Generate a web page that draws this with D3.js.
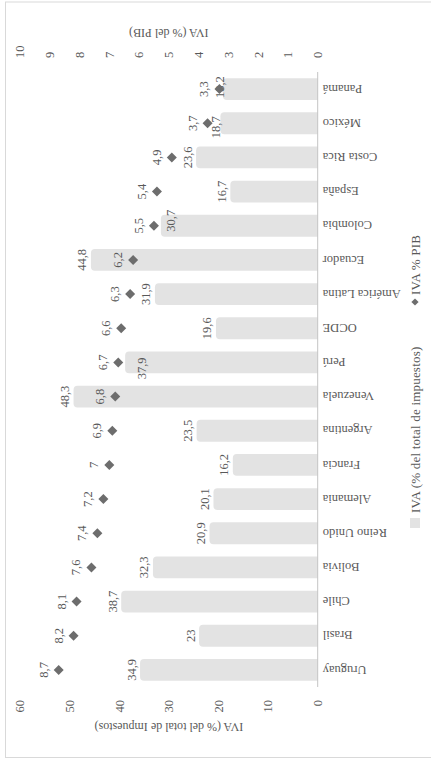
<!DOCTYPE html>
<html><head><meta charset="utf-8">
<script src="https://cdn.jsdelivr.net/npm/d3@7"></script>
<style>html,body{margin:0;padding:0;background:#fff;overflow:hidden}</style>
</head><body>
<svg id="chart" width="431" height="761"></svg>
<script>
const categories = ["Uruguay","Brasil","Chile","Bolivia","Reino Unido","Alemania","Francia","Argentina","Venezuela","Perú","OCDE","América Latina","Ecuador","Colombia","España","Costa Rica","México","Panamá"];
const ivaTotal = [34.9,23,38.7,32.3,20.9,20.1,16.2,23.5,48.3,37.9,19.6,31.9,44.8,30.7,16.7,23.6,18.7,18.2];
const ivaPIB = [8.7,8.2,8.1,7.6,7.4,7.2,7,6.9,6.8,6.7,6.6,6.3,6.2,5.5,5.4,4.9,3.7,3.3];
const leftTicks = [0,10,20,30,40,50,60];
const rightTicks = [0,1,2,3,4,5,6,7,8,9,10];
const titleText = "Gráfico 2014";
const leftTitle = "IVA (% del total de Impuestos)";
const rightTitle = "IVA (% del PIB)";
const legendBar = "IVA (% del total de impuestos)";
const legendPt = "IVA % PIB";

// manual label nudges (original, un-rotated frame)
const barLabelNudge = {"Perú":{dx:-6,dy:25},"Colombia":{dx:5,dy:19},"México":{dx:-4,dy:4},"Panamá":{dx:2,dy:6}};

const W = 761, H = 431;
const svg = d3.select("#chart");
const g = svg.append("g").attr("transform", `translate(0,${W}) rotate(-90)`);
const FONT = "'Liberation Serif','Times New Roman',serif";
const TXT = "#595959";
const fmt = v => String(v).replace(".", ",");

// frame
g.append("rect").attr("x",3.5).attr("y",5.5).attr("width",755.5).attr("height",600)
  .attr("fill","none").attr("stroke","#d9d9d9");
// title (mostly outside the view, as in the reference)
g.append("text").attr("x",369).attr("y",-1).attr("text-anchor","middle")
  .attr("font-family",FONT).attr("font-weight","bold").attr("font-size",15).attr("fill","#333")
  .text(titleText);

const x = d3.scaleBand().domain(categories).range([74,689]).paddingInner(0.36).paddingOuter(0.18);
const yL = d3.scaleLinear().domain([0,60]).range([317.7,20]);
const yR = d3.scaleLinear().domain([0,10]).range([317.7,20]);

const barCap = 4.5, rad = 4;
const data = categories.map((c,i)=>({c, v:ivaTotal[i], p:ivaPIB[i]}));

// bars with rounded top
g.append("g").selectAll("path").data(data).join("path")
  .attr("fill","#e3e3e3")
  .attr("d", d => {
    const x0 = x(d.c), x1 = x0 + x.bandwidth(), yb = yL(0), yt = yL(d.v) - barCap;
    return `M${x0},${yb}V${yt+rad}Q${x0},${yt} ${x0+rad},${yt}H${x1-rad}Q${x1},${yt} ${x1},${yt+rad}V${yb}Z`;
  });

// baseline
g.append("line").attr("x1",x.range()[0]).attr("x2",x.range()[1])
  .attr("y1",yL(0)).attr("y2",yL(0)).attr("stroke","#c4c4c4").attr("stroke-width",1);

// category labels
g.append("g").selectAll("text").data(categories).join("text")
  .attr("transform", c => `translate(${x(c)+x.bandwidth()/2},${yL(0)+5}) rotate(-90)`)
  .attr("text-anchor","end").attr("dy","0.35em")
  .attr("font-family",FONT).attr("font-size",12.5).attr("fill",TXT)
  .text(c=>c);

// bar labels
g.append("g").selectAll("text").data(data).join("text")
  .attr("x", d => x(d.c)+x.bandwidth()/2 + ((barLabelNudge[d.c]||{}).dx||0))
  .attr("y", d => yL(d.v) - 9 + ((barLabelNudge[d.c]||{}).dy||0))
  .attr("text-anchor","middle")
  .attr("font-family",FONT).attr("font-size",12.5).attr("fill",TXT)
  .text(d=>fmt(d.v));

// diamonds
const diamond = d3.symbol().type(d3.symbolSquare).size(50);
g.append("g").selectAll("path").data(data).join("path")
  .attr("d", diamond)
  .attr("transform", d => `translate(${x(d.c)+x.bandwidth()/2},${yR(d.p)}) rotate(45)`)
  .attr("fill","#6d6d6d");

// diamond labels
g.append("g").selectAll("text").data(data).join("text")
  .attr("x", d => x(d.c)+x.bandwidth()/2)
  .attr("y", d => yR(d.p) - 11)
  .attr("text-anchor","middle")
  .attr("font-family",FONT).attr("font-size",12.5).attr("fill",TXT)
  .text(d=>fmt(d.p));

// left axis ticks
g.append("g").selectAll("text").data(leftTicks).join("text")
  .attr("x",61).attr("y",t=>yL(t)).attr("dy","0.35em").attr("text-anchor","end")
  .attr("font-family",FONT).attr("font-size",12.5).attr("fill",TXT).text(t=>t);
// right axis ticks
g.append("g").selectAll("text").data(rightTicks).join("text")
  .attr("x",703).attr("y",t=>yR(t)).attr("dy","0.35em").attr("text-anchor","start")
  .attr("font-family",FONT).attr("font-size",12.5).attr("fill",TXT).text(t=>t);

// axis titles
const midY = (yL(0)+yL(60))/2;
g.append("text").attr("transform",`translate(34,${midY}) rotate(-90)`)
  .attr("text-anchor","middle").attr("dy","0.35em")
  .attr("font-family",FONT).attr("font-size",12).attr("fill",TXT).text(leftTitle);
g.append("text").attr("transform",`translate(728,${midY}) rotate(-90)`)
  .attr("text-anchor","middle").attr("dy","0.35em")
  .attr("font-family",FONT).attr("font-size",12).attr("fill",TXT).text(rightTitle);

// legend
const ly = 415;
g.append("rect").attr("x",233).attr("y",ly-5).attr("width",10).attr("height",10).attr("fill","#e3e3e3");
g.append("text").attr("x",248).attr("y",ly).attr("dy","0.35em")
  .attr("font-family",FONT).attr("font-size",13).attr("letter-spacing",0.2).attr("fill",TXT).text(legendBar);
g.append("path").attr("d", d3.symbol().type(d3.symbolSquare).size(26)())
  .attr("transform",`translate(459,${ly}) rotate(45)`).attr("fill","#6d6d6d");
g.append("text").attr("x",466).attr("y",ly).attr("dy","0.35em")
  .attr("font-family",FONT).attr("font-size",13).attr("letter-spacing",0.2).attr("fill",TXT).text(legendPt);
</script>
</body></html>
